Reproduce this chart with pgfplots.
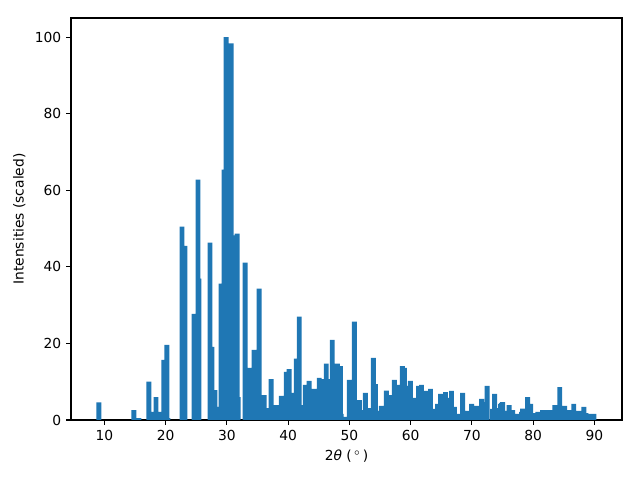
\documentclass[border=0pt]{standalone}
\usepackage{fontspec}
\setmainfont{DejaVu Sans}
\usepackage{pgfplots}
\pgfplotsset{compat=1.18}
\definecolor{mplblue}{HTML}{1F77B4}
\begin{document}
\begin{tikzpicture}
\path[use as bounding box] (0,0) rectangle (6.4in,4.8in);
\begin{axis}[
  at={(0.71in,0.60in)}, anchor=south west,
  scale only axis, width=5.51in, height=4.02in,
  xmin=4.56, xmax=94.52, ymin=0, ymax=105,
  xtick={10,20,...,90}, ytick={0,20,...,100},
  tick align=outside, tick pos=left,
  major tick length=3.5pt,
  axis line style={line width=0.8pt},
  every tick/.style={black, line width=0.8pt},
  /pgf/number format/assume math mode=true,
  ticklabel style={font=\fontsize{10}{12}\selectfont},
  label style={font=\fontsize{10}{12}\selectfont},
  xlabel={2\textit{θ} (\,$^\circ$\,)},
  ylabel={Intensities (scaled)},
]
\addplot[ybar, fill=mplblue, draw=none, bar width=0.8, bar shift=0pt] coordinates {
(9.10,4.6) (14.83,2.6) (15.64,0.5) (17.28,10.0) (17.60,2.1) (18.43,6.0) (18.92,2.1)
(19.73,15.7) (20.22,19.6) (20.38,0.5) (22.68,50.5) (23.17,45.5) (24.64,27.7)
(25.29,62.8) (25.45,36.9) (27.26,46.3) (27.58,19.1) (28.07,7.8) (28.24,3.4)
(29.06,35.6) (29.55,65.4) (29.88,100) (30.70,98.4) (31.51,48.2) (31.68,48.7)
(31.84,6.0) (32.99,41.1) (33.80,13.6) (34.62,18.1) (34.46,18.3) (35.28,34.3)
(36.09,6.5) (36.91,3.1) (37.24,10.7) (37.40,3.1) (38.06,3.9) (38.88,6.3)
(39.70,12.6) (40.18,13.3) (40.51,7.1) (41.33,16.0) (41.82,27.0) (41.98,3.9)
(42.80,9.2) (43.44,10.2) (44.25,8.1) (44.90,6.8) (45.09,11.0) (45.42,10.7)
(46.24,14.7) (46.40,10.7) (47.22,20.9) (48.04,14.7) (48.53,14.1) (48.69,1.6)
(49.18,0.8) (50.00,10.5) (50.82,25.7) (51.64,5.2) (51.80,2.6) (52.62,7.1)
(53.11,3.1) (53.93,16.2) (54.25,9.4) (54.58,2.4) (54.74,1.0) (55.23,3.7)
(56.05,7.7) (56.54,6.5) (57.36,10.5) (57.85,9.2) (58.67,14.1) (59.00,13.6)
(59.16,8.9) (59.98,10.2) (60.47,5.8) (61.29,8.9) (61.78,9.2) (62.11,5.0)
(62.43,7.6) (63.25,8.1) (63.90,2.9) (64.40,4.2) (64.89,6.8) (65.71,7.3)
(65.87,5.8) (66.69,7.6) (67.18,3.4) (67.67,1.6) (68.49,7.1) (68.65,1.6)
(69.14,2.4) (69.96,4.2) (70.78,3.7) (71.60,5.5) (71.76,4.7) (72.50,8.9)
(73.40,2.9) (73.72,6.8) (74.54,3.1) (74.71,4.2) (74.87,4.5) (75.03,4.7)
(75.36,2.4) (76.10,3.9) (76.67,2.6) (77.18,1.6) (77.34,1.6) (78.14,2.1)
(78.30,3.0) (79.12,6.0) (79.61,4.2) (79.78,1.6) (80.27,1.8) (80.76,2.1)
(81.57,2.6) (82.39,2.6) (82.72,2.6) (83.54,3.9) (84.36,8.6) (85.18,3.7)
(85.34,1.8) (85.83,2.6) (86.65,4.2) (86.81,1.8) (87.47,2.4) (88.29,3.4)
(88.62,1.8) (89.43,1.6) (89.92,1.6)
};
\end{axis}
\end{tikzpicture}
\end{document}
